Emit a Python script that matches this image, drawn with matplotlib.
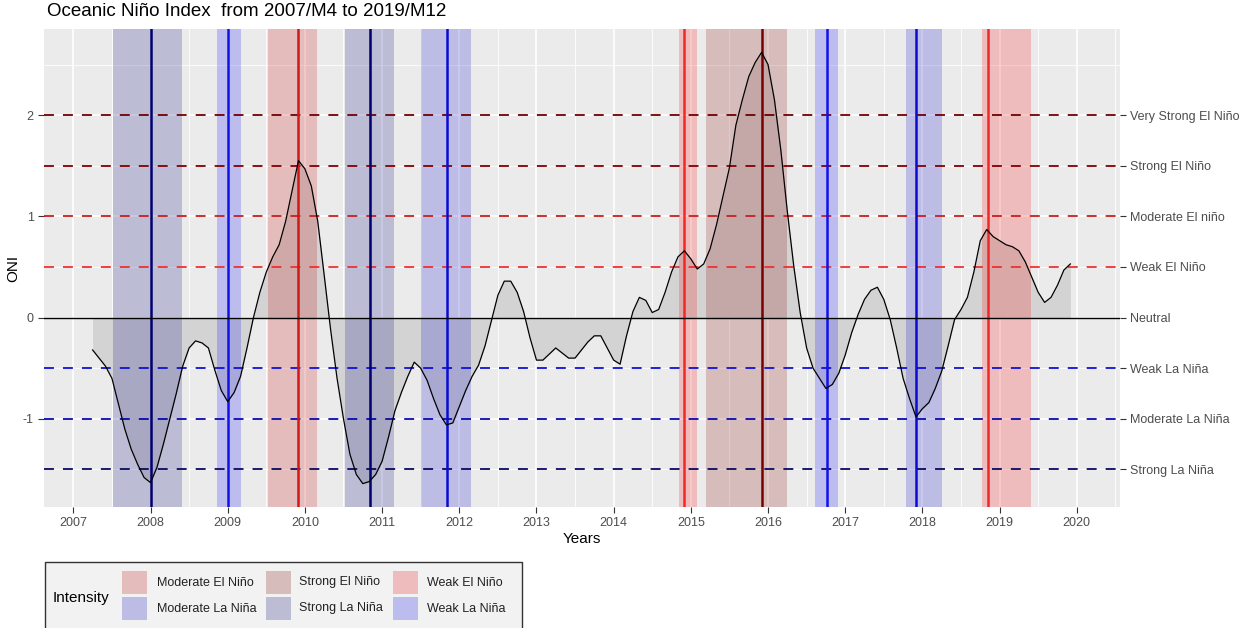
import matplotlib
matplotlib.use("Agg")
import matplotlib.pyplot as plt
from matplotlib.patches import Rectangle

plt.rcParams['font.family'] = ['Liberation Sans', 'DejaVu Sans']

# ---------------- data ----------------
start_year = 2007
start_month = 4  # April 2007
oni_values = [
    # 2007 (Apr-Dec)
    -0.32, -0.40, -0.48, -0.60, -0.85, -1.10, -1.30, -1.45, -1.58,
    # 2008
    -1.63, -1.48, -1.25, -1.00, -0.75, -0.48, -0.30, -0.23, -0.25, -0.30, -0.52, -0.72,
    # 2009
    -0.83, -0.74, -0.58, -0.30, 0.00, 0.25, 0.45, 0.60, 0.72, 0.95, 1.25, 1.55,
    # 2010
    1.47, 1.30, 0.95, 0.42, -0.12, -0.60, -1.00, -1.35, -1.55, -1.64, -1.62, -1.55,
    # 2011
    -1.42, -1.18, -0.92, -0.74, -0.58, -0.44, -0.50, -0.62, -0.80, -0.96, -1.06, -1.04,
    # 2012
    -0.88, -0.72, -0.58, -0.47, -0.28, -0.03, 0.22, 0.36, 0.36, 0.25, 0.06, -0.20,
    # 2013
    -0.42, -0.42, -0.36, -0.30, -0.35, -0.40, -0.40, -0.32, -0.24, -0.18, -0.18, -0.30,
    # 2014
    -0.42, -0.46, -0.18, 0.06, 0.20, 0.17, 0.05, 0.08, 0.25, 0.45, 0.60, 0.66,
    # 2015
    0.58, 0.48, 0.53, 0.68, 0.92, 1.20, 1.48, 1.90, 2.15, 2.38, 2.52, 2.62,
    # 2016
    2.50, 2.15, 1.65, 1.05, 0.51, 0.05, -0.30, -0.50, -0.60, -0.70, -0.66, -0.55,
    # 2017
    -0.37, -0.15, 0.03, 0.18, 0.27, 0.30, 0.18, -0.02, -0.30, -0.60, -0.80, -0.98,
    # 2018
    -0.90, -0.84, -0.70, -0.53, -0.28, -0.02, 0.08, 0.20, 0.45, 0.76, 0.87, 0.80,
    # 2019
    0.76, 0.72, 0.70, 0.66, 0.55, 0.40, 0.25, 0.15, 0.20, 0.32, 0.47, 0.53,
]

event_intensity = ["Strong La Niña", "Weak La Niña", "Moderate El Niño", "Strong La Niña",
                   "Moderate La Niña", "Weak El Niño", "Strong El Niño", "Weak La Niña",
                   "Moderate La Niña", "Weak El Niño"]
event_start = [2007.51, 2008.855, 2009.516, 2010.52, 2011.507, 2014.847, 2015.197, 2016.61, 2017.79, 2018.777]
event_end = [2008.41, 2009.166, 2010.158, 2011.15, 2012.15, 2015.074, 2016.248, 2016.91, 2018.26, 2019.41]
event_peak = [2008.0, 2009.01, 2009.91, 2010.84, 2011.84, 2014.91, 2015.917, 2016.77, 2017.92, 2018.85]

threshold_values = [2, 1.5, 1, 0.5, 0, -0.5, -1, -1.5]
threshold_labels = ["Very Strong El Niño", "Strong El Niño", "Moderate El niño", "Weak El Niño",
                    "Neutral", "Weak La Niña", "Moderate La Niña", "Strong La Niña"]
threshold_colors = ["#6E0000", "#800000", "#C81E1E", "#F03030", "black", "#1010D8", "#0A0AB0", "#0A0A60"]

year_ticks = list(range(2007, 2021))
oni_ticks = [-1, 0, 1, 2]

intensity_order = ["Moderate El Niño", "Moderate La Niña", "Strong El Niño",
                   "Strong La Niña", "Weak El Niño", "Weak La Niña"]
intensity_colors = {
    "Moderate El Niño": "#CD0000",
    "Strong El Niño": "#8B0000",
    "Weak El Niño": "#FF0000",
    "Moderate La Niña": "#0000CD",
    "Strong La Niña": "#000080",
    "Weak La Niña": "#0000FF",
}
line_colors = {
    "Moderate El Niño": "#D01818",
    "Strong El Niño": "#7A0000",
    "Weak El Niño": "#F02828",
    "Moderate La Niña": "#0A0AD0",
    "Strong La Niña": "#000070",
    "Weak La Niña": "#1010E8",
}

# ---------------- figure ----------------
W, H = 1244, 628
fig = plt.figure(figsize=(W / 100, H / 100), dpi=100)
L, R, T, B = 44, 1120, 29, 507
ax = fig.add_axes([L / W, 1 - B / H, (R - L) / W, (B - T) / H])
ax.set_facecolor("#EBEBEB")

times = [start_year + (start_month - 1 + i) / 12 for i in range(len(oni_values))]

ax.set_xlim(2006.62, 2020.56)
ax.set_ylim(-1.871, 2.851)

# grid
for y in [-1.5, -0.5, 0.5, 1.5, 2.5]:
    ax.axhline(y, color="white", lw=0.6, zorder=0.5)
for y in oni_ticks:
    ax.axhline(y, color="white", lw=1.2, zorder=0.5)
for x in year_ticks:
    ax.axvline(x, color="white", lw=1.2, zorder=0.5)
    ax.axvline(x + 0.5, color="white", lw=0.6, zorder=0.5)

# area
ax.fill_between(times, oni_values, 0, color="#D3D3D3", lw=0, zorder=1)

# bands
for lab, s, e in zip(event_intensity, event_start, event_end):
    ax.axvspan(s, e, color=intensity_colors[lab], alpha=0.2, lw=0, zorder=2)

# threshold lines
for v, c in zip(threshold_values, threshold_colors):
    if v == 0:
        ax.axhline(v, color=c, lw=1.0, zorder=4)
    else:
        ax.axhline(v, color=c, lw=1.3, dashes=(5.5, 5), zorder=3)

# peak lines
for lab, p in zip(event_intensity, event_peak):
    ax.axvline(p, color=line_colors[lab], lw=1.8, zorder=3.5)

# ONI curve
ax.plot(times, oni_values, color="black", lw=0.9, zorder=5)

for sp in ax.spines.values():
    sp.set_visible(False)

ax.set_xticks(year_ticks)
ax.set_xticklabels([str(y) for y in year_ticks])
ax.set_yticks(oni_ticks)
ax.set_yticklabels([str(v) for v in oni_ticks])
ax.tick_params(axis="both", colors="#333333", labelcolor="#4D4D4D", labelsize=9, length=4, width=0.8)
ax.set_xlabel("Years", fontsize=11, labelpad=2)
ax.set_ylabel("ONI", fontsize=11, labelpad=2)

ax2 = ax.twinx()
ax2.set_ylim(ax.get_ylim())
ax2.set_yticks(threshold_values)
ax2.set_yticklabels(threshold_labels)
ax2.tick_params(axis="y", colors="#333333", labelcolor="#4D4D4D", labelsize=9, length=4, width=0.8)
for sp in ax2.spines.values():
    sp.set_visible(False)

# title
fig.text(47 / W, 1 - 12 / H, "Oceanic Niño Index  from 2007/M4 to 2019/M12", fontsize=13.5,
         ha="left", va="center", color="black")

# ---------------- legend (manual) ----------------
def P(px, py):
    return (px / W, 1 - py / H)

box = Rectangle(P(45, 640), (522 - 45) / W, (640 - 562) / H, transform=fig.transFigure,
                facecolor="#F2F2F2", edgecolor="#333333", lw=1.0, clip_on=False)
fig.add_artist(box)
fig.text(*P(53, 598), "Intensity", fontsize=11, ha="left", va="center", color="black")

key_x = [122, 266, 393]
text_x = [157, 299, 427]
key_y = [(571, 594), (597, 620)]
for i, lab in enumerate(intensity_order):
    col, row = divmod(i, 2)
    y0, y1 = key_y[row]
    kx = key_x[col]
    base = Rectangle(P(kx, y1), 25 / W, (y1 - y0) / H, transform=fig.transFigure,
                     facecolor="#EBEBEB", lw=0)
    fig.add_artist(base)
    patch = Rectangle(P(kx, y1), 25 / W, (y1 - y0) / H, transform=fig.transFigure,
                      facecolor=intensity_colors[lab], alpha=0.2, lw=0)
    fig.add_artist(patch)
    fig.text(*P(text_x[col], (y0 + y1) / 2), lab, fontsize=9, ha="left", va="center", color="#222222")

fig.savefig("out.png", dpi=100)
